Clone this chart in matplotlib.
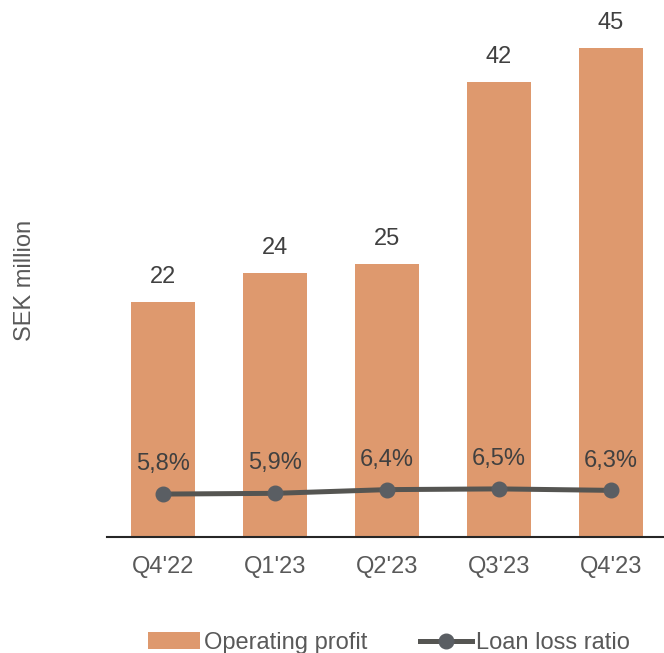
import matplotlib.pyplot as plt
import numpy as np

plt.rcParams['font.family'] = ['Liberation Sans', 'DejaVu Sans']

quarters = ["Q4'22", "Q1'23", "Q2'23", "Q3'23", "Q4'23"]
operating_profit = [21.6, 24.3, 25.1, 41.9, 45.0]
profit_labels = ['22', '24', '25', '42', '45']
loan_loss_ratio = [5.8, 5.9, 6.4, 6.5, 6.3]
ratio_labels = ['5,8%', '5,9%', '6,4%', '6,5%', '6,3%']

bar_color = '#DE996E'
line_color = '#555552'
marker_color = '#5A5E63'
text_color = '#595959'
label_color = '#404040'
fs = 17

fig = plt.figure(figsize=(6.64, 6.53), dpi=100)
ax = fig.add_axes([107 / 664, 116 / 653, 560 / 664, 527 / 653])
x = np.arange(len(quarters))

bars = ax.bar(x, operating_profit, width=0.58, color=bar_color, label='Operating profit')
for xi, v, lab in zip(x, operating_profit, profit_labels):
    ax.annotate(lab, (xi, v), xytext=(0, 18), textcoords='offset points',
                ha='center', va='center', fontsize=fs, color=label_color)

ax.set_xlim(-0.5, 4.5)
ax.set_ylim(0, 48.5)
ax.set_yticks([])
ax.set_xticks(x)
ax.set_xticklabels(quarters, fontsize=fs, color=text_color)
ax.tick_params(axis='x', length=0, pad=14)
for s in ['top', 'right', 'left']:
    ax.spines[s].set_visible(False)
ax.spines['bottom'].set_color('#262626')
ax.spines['bottom'].set_linewidth(1.5)

ax2 = ax.twinx()
ax2.set_ylim(0, 71.2)
line, = ax2.plot(x, loan_loss_ratio, color=line_color, lw=3.6, marker='o',
                 markersize=10.5, markerfacecolor=marker_color,
                 markeredgecolor=marker_color, label='Loan loss ratio')
for xi, v, lab in zip(x, loan_loss_ratio, ratio_labels):
    ax2.annotate(lab, (xi, v), xytext=(0, 21.5), textcoords='offset points',
                 ha='center', va='center', fontsize=fs, color=label_color)
ax2.axis('off')

fig.text(25 / 664, 1 - 280 / 653, 'SEK million', rotation=90, ha='center',
         va='center', fontsize=fs, color=text_color)

fig.legend([bars, line], ['Operating profit', 'Loan loss ratio'], loc='center',
           bbox_to_anchor=(389 / 664, 10 / 653), ncol=2, frameon=False,
           fontsize=fs, handlelength=2.2, handletextpad=0.2,
           columnspacing=2.2, labelcolor=text_color)

fig.savefig('out.png', dpi=100)
